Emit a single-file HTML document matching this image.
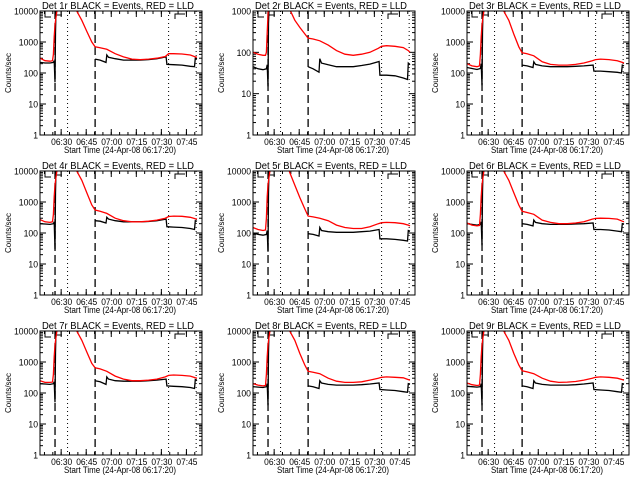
<!DOCTYPE html>
<html><head><meta charset="utf-8"><style>
html,body{margin:0;padding:0;background:#fff;}
svg{display:block;font-family:"Liberation Sans",sans-serif;}
</style></head><body>
<svg id="chart" width="640" height="480" viewBox="0 0 640 480"></svg>
<script>
// Shared time arrays (minutes after 06:17:20)
const redTimes = [0,3,6,7.5,8,8.5,9,9.5,10,10.5,11,15,20,22,25,28,31,33,36,40,45,50,55,60,65,70,75,77,80,85,90,93,94];
const blackTimes = [0,3,6,8,8.5,9,9.3,9.6,10,20,33,36,39.5,40,41,45,50,55,60,65,70,75.5,76,80,85,90,92.5,93,94];
const detectorNames = ["Det 1r","Det 2r","Det 3r","Det 4r","Det 5r","Det 6r","Det 7r","Det 8r","Det 9r"];
const yMaxes = [10000,1000,10000,10000,10000,10000,10000,10000,10000];
const yTickValues = [1,10,100,1000,10000];
const yTickLabels = ["1","10","100","1000","10000"];
const xTickMinutes = [12.67,27.67,42.67,57.67,72.67,87.67];
const xTickLabels = ["06:30","06:45","07:00","07:15","07:30","07:45"];
const dashedLineMinutes = [9,33];
const dottedLineMinutes = [16.5,77,93.5];

const red1 = [300,250,240,250,400,1500,3500,6000,9000,12000,20000,30000,20000,10000,5000,2200,1000,700,650,580,420,330,280,270,280,300,340,420,420,410,380,330,320];
const red2 = [100,90,85,85,100,300,800,2000,3000,5000,5000,5000,5000,1100,600,400,280,220,210,190,150,110,90,85,90,100,125,140,145,140,130,110,100];
const red3 = [200,170,160,170,400,1500,3500,6000,9000,12000,20000,30000,20000,10000,5000,1800,700,450,420,360,230,190,180,180,190,210,250,270,280,270,250,220,210];
const red4 = [270,230,220,230,400,1500,3500,6000,9000,12000,20000,30000,20000,10000,5000,2000,800,550,500,430,300,250,230,230,240,260,300,340,350,345,320,290,280];
const red5 = [150,130,120,125,300,1500,3500,6000,9000,12000,20000,30000,20000,9000,3500,1400,600,350,330,300,250,180,150,140,140,160,200,215,220,215,200,180,170];
const red6 = [210,180,170,175,400,1500,3500,6000,9000,12000,20000,30000,20000,10000,5000,2000,800,500,460,400,260,220,200,200,210,230,280,295,300,295,280,240,230];
const red7 = [250,220,220,225,400,1500,3500,6000,9000,12000,20000,30000,20000,10000,5000,2100,900,650,600,500,350,280,250,250,260,280,330,370,380,370,350,310,300];
const red8 = [200,180,170,175,400,1500,3500,6000,9000,12000,20000,30000,20000,10000,5000,1900,800,500,470,420,300,240,220,220,230,260,300,320,330,320,310,270,260];
const red9 = [210,185,175,180,400,1500,3500,6000,9000,12000,20000,30000,20000,10000,5000,1900,800,520,480,420,300,240,220,225,235,260,300,320,330,320,300,270,260];
const redSeries = [red1,red2,red3,red4,red5,red6,red7,red8,red9];

const black1 = [220,210,210,220,250,50,2000,10000,20000,null,280,260,220,380,320,290,260,260,260,270,290,330,190,185,180,165,160,300,290];
const black2 = [45,40,38,40,50,15,500,1000,2000,null,45,40,33,70,55,50,45,45,45,48,52,60,28,28,27,24,22,55,50];
const black3 = [150,140,130,140,200,40,2000,10000,20000,null,180,170,150,230,190,170,160,160,160,165,170,180,115,115,110,105,100,180,170];
const black4 = [200,195,190,200,230,30,2000,10000,20000,null,250,240,210,320,280,250,230,230,230,235,250,280,160,155,150,140,130,250,240];
const black5 = [100,90,85,90,120,25,2000,10000,20000,null,95,90,80,150,120,110,105,105,105,110,115,130,65,65,62,58,55,120,115];
const black6 = [200,190,180,190,230,40,2000,10000,20000,null,200,190,170,260,220,200,190,190,190,195,200,210,130,130,125,115,110,200,190];
const black7 = [200,195,190,200,230,50,2000,10000,20000,null,250,230,190,330,280,250,240,240,240,250,260,280,170,165,160,150,140,270,250];
const black8 = [160,155,150,160,200,40,2000,10000,20000,null,170,160,140,250,210,190,180,180,180,185,195,210,130,125,120,110,105,200,190];
const black9 = [165,160,155,160,200,40,2000,10000,20000,null,170,160,140,250,210,190,180,180,180,185,195,210,130,125,120,110,105,200,190];
const blackSeries = [black1,black2,black3,black4,black5,black6,black7,black8,black9];

const NS = "http://www.w3.org/2000/svg";
const svg = document.getElementById("chart");
function mk(tag, attrs, parent){
  const e = document.createElementNS(NS, tag);
  for (const k in attrs) e.setAttribute(k, attrs[k]);
  (parent||svg).appendChild(e);
  return e;
}
const L=40, R=202, T=11, B=135, TMAX=97;

for (let p=0; p<9; p++){
  const ox = Math.round((p%3)*213.4), oy = Math.floor(p/3)*160;
  const g = mk("g",{transform:`translate(${ox},${oy})`});
  
  
  const ymin=1, ymax=yMaxes[p];
  const xs = m => L + m/TMAX*(R-L);
  const ys = v => B - (Math.log10(v)-Math.log10(ymin))/(Math.log10(ymax)-Math.log10(ymin))*(B-T);
  const cid = "clip"+p;
  const cp = mk("clipPath",{id:cid},g);
  mk("rect",{x:L,y:T,width:R-L,height:B-T},cp);

  const title = mk("text",{x:42,y:9,"font-size":"10",textLength:"152",lengthAdjust:"spacingAndGlyphs"},g);
  title.textContent = detectorNames[p] + " BLACK = Events, RED = LLD";
  
  
  const xt = mk("text",{x:64,y:153,"font-size":"9",textLength:"112",lengthAdjust:"spacingAndGlyphs"},g);
  xt.textContent = "Start Time (24-Apr-08 06:17:20)";
  
  
  const yt = mk("text",{x:11,y:73,"text-anchor":"middle","font-size":"8",textLength:"40",lengthAdjust:"spacingAndGlyphs",transform:"rotate(-90 11 73)"},g);
  yt.textContent = "Counts/sec";
  
  

  for (let i=0;i<yTickValues.length;i++){
    const v=yTickValues[i]; if (v>ymax) continue;
    const y=ys(v);
    mk("line",{x1:L,y1:y,x2:L+6,y2:y,stroke:"#000"},g);
    mk("line",{x1:R,y1:y,x2:R-6,y2:y,stroke:"#000"},g);
    const lab = yTickLabels[i];
    const t = mk("text",{x:L-2,y:y+3.5,"text-anchor":"end","font-size":"9",textLength:String(lab.length*4.8),lengthAdjust:"spacingAndGlyphs"},g);
    t.textContent = lab;
    
    
    for (let k=2;k<10;k++){
      const vv=v*k; if (vv>ymax) break;
      const yy=ys(vv);
      mk("line",{x1:L,y1:yy,x2:L+3,y2:yy,stroke:"#000"},g);
      mk("line",{x1:R,y1:yy,x2:R-3,y2:yy,stroke:"#000"},g);
    }
  }
  for (let i=0;i<xTickMinutes.length;i++){
    const x=xs(xTickMinutes[i]);
    mk("line",{x1:x,y1:B,x2:x,y2:B-6,stroke:"#000"},g);
    mk("line",{x1:x,y1:T,x2:x,y2:T+6,stroke:"#000"},g);
    const t = mk("text",{x:x-10,y:145,"font-size":"9",textLength:"21",lengthAdjust:"spacingAndGlyphs"},g);
    t.textContent = xTickLabels[i];
    
    
  }
  for (let m=2.67;m<TMAX;m+=5){
    const x=xs(m);
    mk("line",{x1:x,y1:B,x2:x,y2:B-3,stroke:"#000"},g);
    mk("line",{x1:x,y1:T,x2:x,y2:T+3,stroke:"#000"},g);
  }
  dashedLineMinutes.forEach(m=>{
    const l = mk("line",{x1:xs(m),y1:T,x2:xs(m),y2:B,stroke:"#000","stroke-width":"1.3","stroke-dasharray":"8,4"},g);
    
    
  });
  dottedLineMinutes.forEach(m=>{
    const l = mk("line",{x1:xs(m),y1:T,x2:xs(m),y2:B,stroke:"#000","stroke-dasharray":"1,3"},g);
    
    
  });
  mk("path",{d:`M45,${T} V${T+6} H51 M${L+16},${T} V${T+4} H${L+22} M${L+135},${T+8} V${T+3} H${L+145}`,fill:"none",stroke:"#000"},g);

  const bs = blackSeries[p];
  let d="", pen=false;
  for (let i=0;i<blackTimes.length;i++){
    if (bs[i]===null){pen=false;continue;}
    d += (pen?"L":"M")+xs(blackTimes[i]).toFixed(1)+","+ys(bs[i]).toFixed(1);
    pen=true;
  }
  const bp = mk("path",{d:d,fill:"none",stroke:"#000","stroke-width":"1.3","clip-path":`url(#${cid})`},g);
  
  
  const rs = redSeries[p];
  let dr="";
  for (let i=0;i<redTimes.length;i++){
    dr += (i?"L":"M")+xs(redTimes[i]).toFixed(1)+","+ys(rs[i]).toFixed(1);
  }
  const rp = mk("path",{d:dr,fill:"none",stroke:"#ff0000","stroke-width":"1.3","clip-path":`url(#${cid})`},g);
  
  

  const fr = mk("rect",{x:L,y:T,width:R-L,height:B-T,fill:"none",stroke:"#000"},g);
  
  
}
</script>
</body></html>
